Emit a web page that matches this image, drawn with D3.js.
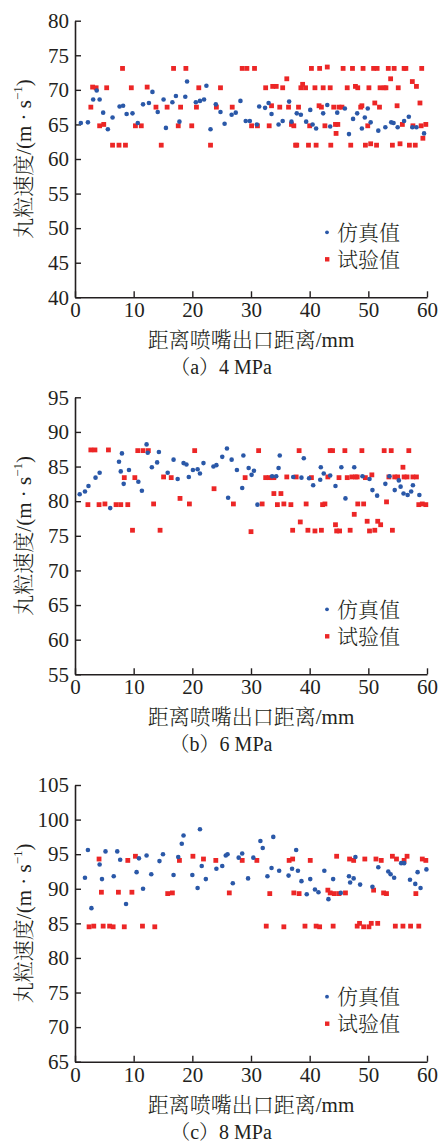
<!DOCTYPE html>
<html><head><meta charset="utf-8">
<script src="https://cdn.jsdelivr.net/npm/d3@7"></script>
<style>
html,body{margin:0;padding:0;background:#fff;}
svg text{font-family:"Liberation Serif","Noto Serif CJK SC","Noto Sans CJK SC",serif;fill:#231f20;}
svg text.cjk{font-weight:300;}
</style></head>
<body>
<svg id="chart" width="440" height="1143"></svg>
<script>
const xTicks = [0,10,20,30,40,50,60];
const yTicksA = [40,45,50,55,60,65,70,75,80];
const yTicksB = [55,60,65,70,75,80,85,90,95];
const yTicksC = [65,70,75,80,85,90,95,100,105];
const legendLabels = ["仿真值","试验值"];
const captions = ["（a）4 MPa","（b）6 MPa","（c）8 MPa"];
const xTitle = "距离喷嘴出口距离/mm";

const simA = [[1.0,65.2],[2.2,65.3],[3.1,68.6],[3.7,69.9],[4.2,68.6],[4.8,66.7],[5.6,64.3],[6.4,66.0],[7.6,67.6],[8.2,67.7],[8.8,66.5],[9.8,66.6],[10.7,65.2],[11.6,67.9],[12.6,68.1],[13.2,69.7],[14.1,66.8],[15.1,68.6],[15.5,64.5],[16.6,68.2],[17.2,69.1],[17.8,65.4],[18.8,69.0],[19.1,71.2],[20.6,68.2],[21.3,68.4],[22.0,68.6],[22.4,70.6],[23.1,64.3],[24.0,67.9],[24.8,66.8],[25.5,65.1],[26.7,66.4],[27.4,66.7],[28.2,68.4],[29.1,65.5],[29.8,65.5],[31.0,65.0],[31.4,67.6],[32.4,67.4],[33.0,68.1],[33.5,66.5],[34.7,65.0],[35.4,65.5],[36.5,68.3],[36.9,65.4],[37.8,66.6],[38.5,66.4],[39.4,65.4],[40.1,67.1],[40.5,65.0],[41.1,64.4],[42.3,66.6],[43.0,67.8],[43.5,64.7],[44.7,66.7],[46.0,67.3],[46.7,63.6],[47.4,65.8],[48.1,66.6],[48.9,64.4],[49.4,66.0],[49.9,67.3],[50.4,65.3],[51.7,64.1],[52.9,64.6],[53.9,65.3],[54.3,65.2],[55.0,64.6],[56.1,65.5],[56.9,66.1],[57.5,64.6],[58.2,64.6],[59.5,63.7]];
const expA = [[2.7,67.5],[3.0,70.4],[3.6,70.3],[4.2,64.8],[4.9,65.0],[5.4,70.3],[6.4,62.0],[7.5,62.0],[8.1,73.1],[8.6,62.0],[9.6,70.3],[10.3,64.8],[11.3,64.8],[12.3,70.4],[13.8,67.5],[14.7,62.0],[15.7,67.5],[16.8,73.1],[17.6,64.8],[18.0,67.5],[18.9,73.1],[19.9,64.8],[20.7,67.5],[21.1,70.3],[23.1,62.0],[24.1,67.5],[24.8,70.3],[26.8,67.5],[28.5,73.1],[29.3,73.1],[30.1,64.8],[30.6,73.1],[31.1,64.8],[32.5,70.3],[33.1,64.8],[33.5,67.7],[33.7,70.5],[34.3,70.5],[34.9,67.5],[35.4,70.3],[36.1,71.6],[36.4,67.5],[36.9,65.0],[37.3,64.8],[37.6,62.0],[37.8,62.0],[38.1,67.5],[38.5,70.3],[38.8,70.8],[39.3,70.3],[39.8,62.0],[40.0,64.8],[40.3,73.1],[40.9,70.3],[41.1,62.0],[41.6,67.7],[41.7,73.1],[42.0,67.5],[42.3,70.3],[42.6,64.8],[43.0,73.3],[43.5,70.3],[43.6,62.0],[44.1,67.5],[44.4,65.0],[44.5,63.7],[44.8,65.0],[45.0,67.5],[45.5,67.5],[45.7,73.1],[46.4,70.3],[47.0,62.0],[47.3,73.1],[47.8,70.5],[48.2,70.3],[48.7,67.5],[48.9,67.7],[49.1,73.1],[49.5,62.0],[49.9,64.8],[50.1,70.3],[50.4,62.2],[50.9,73.1],[51.1,68.1],[51.4,62.0],[51.5,73.1],[51.9,67.5],[52.0,70.3],[52.7,70.3],[53.0,70.3],[53.4,73.1],[53.8,71.6],[54.1,62.0],[54.4,73.1],[54.9,67.7],[55.1,70.3],[55.4,62.2],[55.8,65.0],[56.1,73.1],[56.4,73.1],[57.0,62.0],[57.5,71.2],[57.6,64.8],[58.0,62.0],[58.2,70.5],[58.8,68.1],[59.0,64.8],[59.1,73.1],[59.3,63.0],[59.8,65.0]];
const simB = [[0.8,81.0],[1.7,81.4],[2.3,82.2],[3.5,83.4],[4.2,84.1],[6.0,79.0],[7.5,85.7],[7.8,84.3],[8.0,86.9],[8.3,82.5],[9.2,84.5],[10.8,82.8],[11.4,81.5],[12.2,88.2],[12.4,87.0],[13.1,84.9],[14.0,85.6],[14.3,87.1],[15.8,84.1],[16.8,86.0],[17.5,83.2],[18.5,85.5],[19.0,85.3],[19.4,83.5],[20.1,84.5],[20.9,84.6],[21.3,84.0],[21.9,85.5],[23.6,85.0],[24.1,85.2],[25.1,86.4],[25.9,87.6],[26.1,80.5],[26.7,86.0],[27.6,84.5],[28.5,81.9],[28.7,86.6],[29.6,84.8],[30.1,83.8],[30.5,84.4],[31.1,79.5],[33.6,83.6],[34.3,83.6],[34.7,84.8],[34.9,86.6],[37.2,83.5],[38.6,83.4],[39.0,86.2],[39.9,83.3],[40.6,82.3],[41.8,83.1],[41.9,84.9],[42.4,84.0],[43.5,83.7],[44.4,82.2],[45.4,84.9],[46.1,80.4],[47.6,84.9],[49.0,83.6],[50.2,83.2],[50.7,81.6],[51.5,80.8],[52.9,82.5],[53.6,83.6],[54.5,81.6],[55.2,83.0],[55.5,82.1],[56.0,81.1],[56.7,80.9],[57.3,81.4],[57.6,82.3],[58.7,80.9]];
const expB = [[2.2,79.5],[2.7,87.4],[3.4,87.4],[4.1,79.5],[5.1,79.6],[5.7,87.4],[7.0,79.5],[7.8,79.5],[8.4,83.4],[9.0,79.5],[9.8,75.8],[10.2,83.4],[10.7,87.3],[11.6,87.3],[12.5,87.3],[13.4,79.6],[14.5,75.8],[15.1,83.5],[16.4,83.4],[17.9,80.4],[19.5,79.6],[20.4,87.3],[23.7,81.8],[27.0,79.6],[29.0,83.4],[30.0,75.6],[31.3,87.3],[31.9,79.6],[32.5,83.4],[33.1,83.4],[33.6,83.4],[33.9,83.4],[33.9,81.1],[34.5,79.5],[35.1,81.1],[35.6,79.6],[36.1,83.5],[36.8,79.5],[37.1,75.8],[37.7,83.5],[38.2,87.3],[38.4,77.0],[39.4,79.6],[39.7,75.8],[40.3,83.4],[40.9,75.7],[42.0,75.8],[42.2,79.5],[42.6,79.6],[43.1,83.5],[43.5,87.3],[43.9,87.3],[44.4,76.6],[44.6,75.7],[45.0,83.4],[45.1,75.7],[46.0,87.3],[46.4,83.4],[46.9,75.8],[47.2,83.5],[47.6,78.1],[47.8,83.5],[48.1,83.5],[48.2,79.6],[48.9,87.3],[49.2,79.6],[49.5,83.4],[49.8,77.1],[50.2,75.7],[50.6,83.8],[51.1,75.8],[51.6,77.1],[52.1,76.6],[52.7,87.3],[53.1,79.9],[53.5,83.5],[53.9,87.3],[54.1,75.8],[54.5,83.5],[55.0,83.5],[55.9,84.9],[56.1,83.5],[56.6,83.5],[56.9,87.3],[57.6,83.5],[58.2,83.5],[58.6,79.5],[59.2,79.6],[59.8,79.5]];
const simC = [[1.7,91.6],[2.2,95.6],[2.8,87.2],[4.2,93.5],[4.6,91.4],[5.2,95.4],[6.6,91.8],[7.2,95.4],[7.7,94.2],[8.7,87.8],[10.5,92.4],[10.9,94.4],[11.6,90.0],[12.2,94.8],[13.0,92.1],[14.4,94.0],[15.0,95.0],[16.8,92.0],[17.6,94.6],[18.2,96.5],[18.5,97.7],[20.0,92.0],[20.9,90.1],[21.3,98.6],[21.6,93.3],[22.3,91.4],[24.1,92.9],[25.1,93.3],[25.7,94.8],[26.0,95.0],[26.9,90.8],[27.9,94.5],[28.5,95.1],[29.5,91.5],[30.4,94.5],[31.6,96.9],[32.0,95.9],[32.8,91.8],[33.5,93.0],[33.8,97.5],[34.8,92.6],[36.4,91.9],[37.0,92.9],[37.7,95.6],[38.0,92.6],[38.6,91.1],[39.5,89.2],[40.1,91.4],[40.9,89.9],[41.5,89.5],[42.5,92.6],[43.2,88.5],[44.0,91.4],[45.3,89.4],[46.7,91.8],[46.9,90.9],[47.5,91.5],[47.8,94.6],[48.6,90.6],[50.7,90.3],[51.7,93.1],[53.4,92.5],[53.8,92.1],[54.4,91.6],[55.6,93.7],[56.1,93.7],[57.1,91.3],[58.0,90.7],[58.4,92.4],[58.9,90.1],[59.9,92.8]];
const expC = [[2.4,84.5],[3.2,84.6],[4.1,94.3],[4.5,89.5],[4.8,84.6],[5.9,84.6],[6.5,84.5],[7.4,89.5],[8.4,84.5],[9.0,94.1],[9.7,89.5],[10.3,94.7],[11.5,84.6],[13.6,84.5],[15.8,89.3],[16.6,89.4],[17.8,94.1],[20.1,94.7],[21.9,94.3],[24.0,94.1],[26.3,89.4],[28.5,94.1],[31.0,94.1],[32.6,84.6],[33.2,89.3],[35.6,84.5],[36.5,94.1],[37.1,94.3],[37.3,89.4],[38.2,89.3],[39.2,84.6],[40.1,94.1],[41.1,84.6],[41.7,84.5],[43.1,89.8],[43.5,89.4],[44.0,84.6],[44.2,89.3],[44.6,94.7],[45.0,89.3],[46.1,89.4],[46.8,94.3],[47.5,94.1],[48.1,84.6],[48.5,85.0],[49.2,84.5],[49.4,94.3],[50.1,84.5],[50.5,85.0],[50.9,89.8],[51.3,94.3],[51.6,85.0],[52.2,94.1],[52.6,89.4],[53.1,89.3],[54.1,94.7],[54.6,84.6],[54.8,94.3],[55.9,84.6],[56.1,94.1],[56.6,94.7],[57.2,84.6],[58.1,89.3],[58.6,84.6],[59.2,94.3],[59.8,94.1]];

const BLUE = "#2a58a8", RED = "#ec2626", INK = "#231f20";
const panels = [
  {top:20.7, bottom:297.3, yTicks:yTicksA, sim:simA, exp:expA, cap:captions[0]},
  {top:397.3, bottom:674.3, yTicks:yTicksB, sim:simB, exp:expB, cap:captions[1]},
  {top:785, bottom:1061.7, yTicks:yTicksC, sim:simC, exp:expC, cap:captions[2]}
];
const left = 75, right = 427;
const svg = d3.select("#chart");

panels.forEach(p => {
  const g = svg.append("g");
  const x = d3.scaleLinear().domain([0,60]).range([left,right]);
  const y = d3.scaleLinear().domain(d3.extent(p.yTicks)).range([p.bottom,p.top]);

  const xa = g.append("g").attr("transform",`translate(0,${p.bottom})`)
    .call(d3.axisBottom(x).tickValues(xTicks).tickSizeInner(-6).tickSizeOuter(0).tickPadding(10));
  xa.select(".domain").attr("stroke",INK).attr("stroke-width",1.6);
  xa.selectAll(".tick line").attr("stroke",INK).attr("stroke-width",1.4);
  xa.selectAll(".tick text").attr("font-size",21).attr("dy","0.71em").attr("y",5).attr("fill",INK)
    .style("font-family","Liberation Serif");

  const ya = g.append("g").attr("transform",`translate(${left},0)`)
    .call(d3.axisLeft(y).tickValues(p.yTicks).tickSizeInner(-6).tickSizeOuter(0).tickPadding(7));
  ya.select(".domain").attr("stroke",INK).attr("stroke-width",1.6);
  ya.selectAll(".tick line").attr("stroke",INK).attr("stroke-width",1.4);
  ya.selectAll(".tick text").attr("font-size",21).attr("x",-6).attr("fill",INK)
    .style("font-family","Liberation Serif");

  const yt = g.append("text").attr("class","cjk").attr("transform",`translate(31,${(p.top+p.bottom)/2}) rotate(-90)`)
    .attr("text-anchor","middle").attr("font-size",21);
  yt.append("tspan").text("丸粒速度/(m · s");
  yt.append("tspan").text("−1").attr("font-size",13).attr("dy",-9);
  yt.append("tspan").text(")").attr("dy",9);

  g.append("text").attr("class","cjk").attr("x",(left+right)/2).attr("y",p.bottom+50).attr("text-anchor","middle")
    .attr("font-size",21).text(xTitle);
  g.append("text").attr("class","cjk").attr("x",221).attr("y",p.bottom+77).attr("text-anchor","middle")
    .attr("font-size",20).text(p.cap);

  const s = 4.8;
  g.append("g").selectAll("rect").data(p.exp).join("rect")
    .attr("x",d=>x(d[0])-s/2).attr("y",d=>y(d[1])-s/2).attr("width",s).attr("height",s).attr("fill",RED);
  g.append("g").selectAll("circle").data(p.sim).join("circle")
    .attr("cx",d=>x(d[0])).attr("cy",d=>y(d[1])).attr("r",2.3).attr("fill",BLUE);

  const ly1 = p.bottom-65, ly2 = p.bottom-38;
  g.append("circle").attr("cx",327).attr("cy",ly1).attr("r",1.9).attr("fill",BLUE);
  g.append("rect").attr("x",325).attr("y",ly2-2.2).attr("width",4.4).attr("height",4.4).attr("fill",RED);
  g.append("text").attr("class","cjk").attr("x",337).attr("y",ly1).attr("dy","0.36em").attr("font-size",21).text(legendLabels[0]);
  g.append("text").attr("class","cjk").attr("x",337).attr("y",ly2).attr("dy","0.36em").attr("font-size",21).text(legendLabels[1]);
});
</script>
</body></html>
